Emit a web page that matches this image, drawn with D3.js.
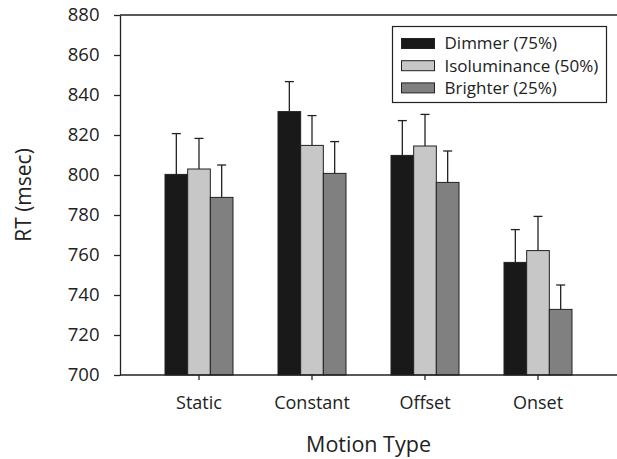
<!DOCTYPE html>
<html>
<head>
<meta charset="utf-8">
<script src="https://cdn.jsdelivr.net/npm/d3@7"></script>
<style>
  body { margin: 0; background: #fff; }
  svg { display: block; font-family: "Open Sans", sans-serif; }
</style>
</head>
<body>
<svg width="617" height="459"></svg>
<script>
// categories and series
const categories = ["Static", "Constant", "Offset", "Onset"];
const series = ["Dimmer (75%)", "Isoluminance (50%)", "Brighter (25%)"];
const colors = ["#191919", "#c6c7c6", "#808080"];

// means per series (msec), same order as categories
const dimmer = [800.3, 831.7, 809.8, 756.3];
const isolum = [803.0, 814.8, 814.5, 762.2];
const brighter = [788.8, 800.8, 796.3, 732.8];

// top of each error bar
const dimmerErr = [820.7, 846.7, 827.2, 772.7];
const isolumErr = [818.3, 829.7, 830.3, 779.3];
const brighterErr = [805.0, 816.7, 812.0, 745.0];

const yTicks = [700, 720, 740, 760, 780, 800, 820, 840, 860, 880];

const means = [dimmer, isolum, brighter];
const errs = [dimmerErr, isolumErr, brighterErr];

const svg = d3.select("svg");
const pLeft = 120, pRight = 617, pTop = 15, pBottom = 375;

let y = d3.scaleLinear().domain([700, 880]).range([pBottom, pTop]);
let x = d3.scaleBand().domain(categories).range([142.5, 594.5]);
let xs = d3.scaleBand().domain(series).range([0, 68]);
let offset = (x.bandwidth() - 68) / 2;

let rows = [];
categories.forEach(function(c, i) {
	series.forEach(function(s, j) {
		rows.push({cat: c, ser: s, k: j, value: means[j][i], err: errs[j][i]});
	});
});

// error bars go behind bars
let eb = svg.append("g").attr("stroke", "#222").attr("stroke-width", 1.3);
eb.selectAll("line.v").data(rows).enter().append("line")
	.attr("class", "v")
	.attr("x1", d => x(d.cat) + offset + xs(d.ser) + xs.bandwidth() / 2)
	.attr("x2", d => x(d.cat) + offset + xs(d.ser) + xs.bandwidth() / 2)
	.attr("y1", d => y(d.value))
	.attr("y2", d => y(d.err));
eb.selectAll("line.c").data(rows).enter().append("line")
	.attr("class", "c")
	.attr("x1", d => x(d.cat) + offset + xs(d.ser) + xs.bandwidth() / 2 - 4.5)
	.attr("x2", d => x(d.cat) + offset + xs(d.ser) + xs.bandwidth() / 2 + 4.5)
	.attr("y1", d => y(d.err))
	.attr("y2", d => y(d.err));

svg.append("g").selectAll("rect").data(rows).enter().append("rect")
	.attr("x", d => x(d.cat) + offset + xs(d.ser))
	.attr("y", d => y(d.value))
	.attr("width", xs.bandwidth())
	.attr("height", d => pBottom - y(d.value))
	.attr("fill", d => colors[d.k])
	.attr("stroke", "#222")
	.attr("stroke-width", 1);

// axes
let yAxis = svg.append("g").attr("transform", "translate(" + pLeft + ",0)")
	.call(d3.axisLeft(y).tickValues(yTicks).tickSize(6).tickSizeOuter(0).tickPadding(14.5));
yAxis.selectAll("text").attr("font-size", 18.5).attr("fill", "#222").attr("font-family", "Open Sans");

let xAxis = svg.append("g").attr("transform", "translate(0," + pBottom + ")")
	.call(d3.axisBottom(x).tickSize(5).tickPadding(16));
xAxis.select(".domain").remove();
xAxis.selectAll("text").attr("font-size", 18).attr("fill", "#222").attr("font-family", "Open Sans");

svg.selectAll(".tick line").attr("stroke", "#222").attr("stroke-width", 1.3);
svg.selectAll(".domain").attr("stroke", "#222").attr("stroke-width", 1.3);

svg.append("line").attr("x1", pLeft).attr("x2", pRight).attr("y1", pBottom).attr("y2", pBottom)
	.attr("stroke", "#222").attr("stroke-width", 1.3);
svg.append("line").attr("x1", pLeft).attr("x2", pRight).attr("y1", pTop).attr("y2", pTop)
	.attr("stroke", "#222").attr("stroke-width", 1.3);

// axis titles
svg.append("text").attr("x", (pLeft + pRight) / 2).attr("y", 452)
	.attr("text-anchor", "middle").attr("font-size", 21.5).attr("fill", "#222")
	.text("Motion Type");
svg.append("text").attr("transform", "translate(31," + (pTop + pBottom) / 2 + ") rotate(-90)")
	.attr("text-anchor", "middle").attr("font-size", 21).attr("fill", "#222")
	.text("RT (msec)");

// legend
let lg = svg.append("g").attr("transform", "translate(392.5,26.5)");
lg.append("rect").attr("width", 214).attr("height", 76)
	.attr("fill", "#fff").attr("stroke", "#222").attr("stroke-width", 1.2);
let items = lg.selectAll("g.item").data(series).enter().append("g")
	.attr("class", "item")
	.attr("transform", (d, i) => "translate(9," + (12 + i * 22.2) + ")");
items.append("rect").attr("width", 33).attr("height", 10)
	.attr("fill", (d, i) => colors[i]).attr("stroke", "#222").attr("stroke-width", 1);
items.append("text").attr("x", 43).attr("y", 5).attr("dy", "0.35em")
	.attr("font-size", 17).attr("fill", "#222").text(d => d);
</script>
</body>
</html>
